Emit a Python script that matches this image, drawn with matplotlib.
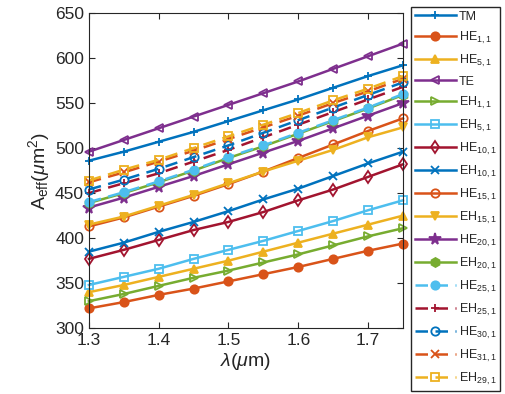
import numpy as np
import matplotlib.pyplot as plt

plt.rcParams['font.family'] = ['Liberation Sans', 'DejaVu Sans']
plt.rcParams['mathtext.fontset'] = 'custom'
plt.rcParams['mathtext.rm'] = 'Liberation Sans'
plt.rcParams['mathtext.it'] = 'Liberation Sans:italic'

# wavelength (um)
wl = [1.30, 1.35, 1.40, 1.45, 1.50, 1.55, 1.60, 1.65, 1.70, 1.75]

# effective mode area (um^2), one list per mode
TM = [486, 496, 507, 518, 530, 542, 554, 567, 580, 592]
HE_1_1 = [322, 329, 337, 344, 352, 360, 368, 377, 386, 394]
HE_5_1 = [340, 348, 357, 366, 375, 385, 395, 405, 415, 425]
TE = [496, 509, 522, 535, 548, 561, 574, 588, 602, 616]
EH_1_1 = [330, 338, 347, 356, 364, 373, 382, 392, 402, 411]
EH_5_1 = [348, 357, 366, 377, 387, 397, 408, 419, 431, 442]
HE_10_1 = [377, 387, 398, 409, 418, 429, 442, 454, 468, 482]
EH_10_1 = [385, 395, 407, 418, 430, 443, 455, 469, 483, 496]
HE_15_1 = [413, 423, 435, 447, 460, 474, 489, 504, 519, 533]
EH_15_1 = [415, 424, 436, 448, 461, 474, 486, 498, 512, 523]
HE_20_1 = [434, 445, 457, 469, 482, 495, 508, 522, 536, 550]
EH_20_1 = [439, 450, 462, 475, 489, 502, 516, 530, 544, 559]
HE_25_1 = [440, 451, 463, 476, 490, 503, 517, 531, 545, 560]
EH_25_1 = [450, 461, 472, 485, 498, 512, 526, 540, 554, 568]
HE_30_1 = [454, 465, 477, 490, 503, 517, 531, 545, 559, 573]
HE_31_1 = [462, 473, 485, 497, 510, 523, 536, 550, 563, 577]
EH_29_1 = [464, 476, 487, 500, 513, 526, 539, 553, 566, 580]

blue = '#0072BD'
orange = '#D95319'
yellow = '#EDB120'
purple = '#7E2F8E'
green = '#77AC30'
cyan = '#4DBEEE'
red = '#A2142F'

# (data, label, color, marker, filled, linestyle)
series = [
    (TM, 'TM', blue, '+', False, '-'),
    (HE_1_1, 'HE$_{1,1}$', orange, 'o', True, '-'),
    (HE_5_1, 'HE$_{5,1}$', yellow, '^', True, '-'),
    (TE, 'TE', purple, '<', False, '-'),
    (EH_1_1, 'EH$_{1,1}$', green, '>', False, '-'),
    (EH_5_1, 'EH$_{5,1}$', cyan, 's', False, '-'),
    (HE_10_1, 'HE$_{10,1}$', red, 'd', False, '-'),
    (EH_10_1, 'EH$_{10,1}$', blue, 'x', False, '-'),
    (HE_15_1, 'HE$_{15,1}$', orange, 'o', False, '-'),
    (EH_15_1, 'EH$_{15,1}$', yellow, 'v', True, '-'),
    (HE_20_1, 'HE$_{20,1}$', purple, '*', True, '-'),
    (EH_20_1, 'EH$_{20,1}$', green, 'h', True, '-'),
    (HE_25_1, 'HE$_{25,1}$', cyan, 'o', True, '--'),
    (EH_25_1, 'EH$_{25,1}$', red, '+', False, '--'),
    (HE_30_1, 'HE$_{30,1}$', blue, 'o', False, '--'),
    (HE_31_1, 'HE$_{31,1}$', orange, 'x', False, '--'),
    (EH_29_1, 'EH$_{29,1}$', yellow, 's', False, '--'),
]

fig = plt.figure(figsize=(5.05, 3.94), dpi=100)
ax = fig.add_axes([0.176, 0.167, 0.622, 0.800])

for data, label, c, m, filled, ls in series:
    ms = 8.5 if m == '*' else (6.5 if m == 'h' else 6)
    ax.plot(wl, data, linestyle=ls, color=c, marker=m, markersize=ms,
            markerfacecolor=c if filled else 'none', markeredgecolor=c,
            markeredgewidth=1.3, linewidth=1.8, label=label,
            clip_on=False, dashes=(5, 3) if ls == '--' else (None, None))

ax.set_xlim(1.3, 1.75)
ax.set_ylim(300, 650)
ax.set_xticks([1.3, 1.4, 1.5, 1.6, 1.7])
ax.set_yticks(np.arange(300, 651, 50))
ax.tick_params(direction='in', labelsize=12.5, top=True, right=True,
               color='#262626', labelcolor='#262626', length=4)
for sp in ax.spines.values():
    sp.set_color('#262626')
    sp.set_linewidth(0.8)
ax.set_xlabel(r'$\lambda$($\mu$m)', fontsize=14, labelpad=2, color='#262626')
ax.set_ylabel(r'A$_{\mathrm{eff}}$($\mu$m$^2$)', fontsize=14, labelpad=2,
              color='#262626')

leg = fig.legend(loc='upper left', bbox_to_anchor=(411 / 505, 1 - 7 / 394),
                 fontsize=9, handlelength=3.3, labelspacing=0.555,
                 handletextpad=0.25, borderpad=0.3, borderaxespad=0,
                 frameon=True, fancybox=False,
                 edgecolor='#262626', framealpha=1)
for t in leg.get_texts():
    t.set_color('#262626')

fig.savefig('out.png', dpi=100)
